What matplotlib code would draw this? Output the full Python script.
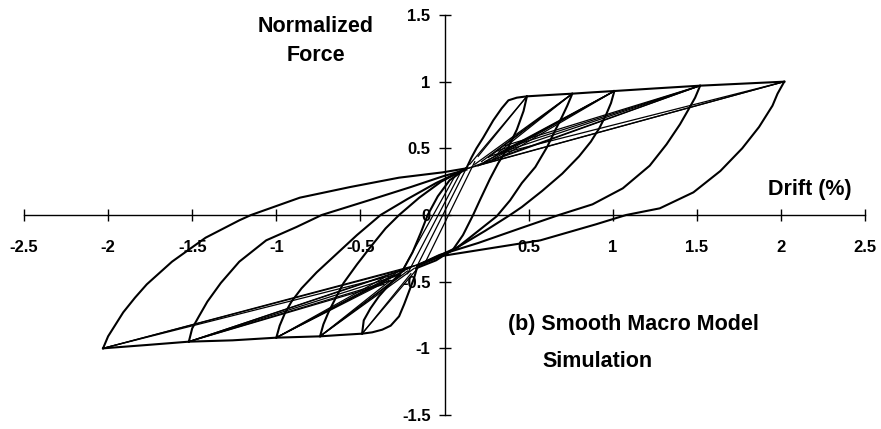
import matplotlib
matplotlib.use('Agg')
import matplotlib.pyplot as plt

# peaks of each drift amplitude (drift %, normalized force)
peak_x_pos = [0.49, 0.76, 1.01, 1.52, 2.02]
peak_f_pos = [0.89, 0.91, 0.93, 0.97, 1.00]
peak_x_neg = [-0.49, -0.74, -1.00, -1.52, -2.03]
peak_f_neg = [-0.89, -0.91, -0.92, -0.95, -1.00]

# unloading from the positive peaks down to the negative pinch
down_x = [
    [0.49, 0.47, 0.43, 0.38, 0.32, 0.27, 0.21, 0.17, 0.11, 0.05, -0.05, -0.17],
    [0.76, 0.73, 0.70, 0.66, 0.61, 0.54, 0.46, 0.39, 0.31, 0.19, 0.07, -0.04, -0.16],
    [1.01, 0.99, 0.96, 0.92, 0.87, 0.80, 0.70, 0.58, 0.46, 0.39, 0.24, 0.08, -0.04, -0.16],
    [1.52, 1.49, 1.45, 1.40, 1.32, 1.22, 1.06, 0.88, 0.68, 0.45, 0.20, -0.03, -0.15],
    [2.02, 1.98, 1.95, 1.87, 1.77, 1.64, 1.48, 1.28, 1.08, 0.90, 0.57, 0.17, -0.03, -0.15],
]
down_f = [
    [0.89, 0.78, 0.64, 0.51, 0.39, 0.27, 0.11, 0.00, -0.15, -0.26, -0.34, -0.40],
    [0.91, 0.82, 0.74, 0.64, 0.51, 0.36, 0.24, 0.11, -0.01, -0.13, -0.25, -0.32, -0.38],
    [0.93, 0.84, 0.75, 0.65, 0.55, 0.44, 0.31, 0.18, 0.06, 0.00, -0.12, -0.24, -0.31, -0.38],
    [0.97, 0.88, 0.79, 0.68, 0.53, 0.37, 0.20, 0.08, 0.00, -0.10, -0.21, -0.30, -0.37],
    [1.00, 0.91, 0.82, 0.66, 0.50, 0.33, 0.17, 0.05, 0.00, -0.07, -0.19, -0.27, -0.31, -0.37],
]

# unloading from the negative peaks up to the positive pinch
up_x = [
    [-0.49, -0.48, -0.44, -0.39, -0.32, -0.25, -0.19, -0.14, -0.10, -0.04, 0.03, 0.13],
    [-0.74, -0.72, -0.69, -0.65, -0.60, -0.52, -0.44, -0.35, -0.27, -0.15, -0.02, 0.13],
    [-1.00, -0.98, -0.95, -0.91, -0.85, -0.76, -0.64, -0.52, -0.38, -0.22, -0.05, 0.05, 0.13],
    [-1.52, -1.50, -1.46, -1.41, -1.33, -1.22, -1.06, -0.88, -0.73, -0.45, -0.20, -0.01, 0.13],
    [-2.03, -2.00, -1.96, -1.91, -1.84, -1.77, -1.62, -1.42, -1.22, -1.15, -0.86, -0.56, -0.27, -0.01, 0.13],
]
up_f = [
    [-0.89, -0.79, -0.70, -0.61, -0.51, -0.42, -0.28, -0.13, 0.00, 0.14, 0.26, 0.35],
    [-0.91, -0.82, -0.73, -0.63, -0.51, -0.37, -0.24, -0.10, 0.00, 0.13, 0.25, 0.35],
    [-0.92, -0.83, -0.74, -0.65, -0.55, -0.43, -0.29, -0.15, 0.00, 0.12, 0.24, 0.30, 0.35],
    [-0.95, -0.85, -0.76, -0.65, -0.51, -0.35, -0.19, -0.09, 0.00, 0.11, 0.21, 0.29, 0.34],
    [-1.00, -0.91, -0.83, -0.73, -0.62, -0.52, -0.35, -0.17, -0.04, 0.00, 0.13, 0.21, 0.28, 0.32, 0.35],
]

# first loading (backbone) from the pinch to the growing peaks
env_pos_x = [0.13, 0.16, 0.19, 0.23, 0.29, 0.34, 0.38, 0.43, 0.49, 0.62, 0.76, 0.88, 1.01, 1.26, 1.52, 1.77, 2.02]
env_pos_f = [0.35, 0.43, 0.50, 0.58, 0.71, 0.80, 0.86, 0.88, 0.89, 0.90, 0.91, 0.92, 0.93, 0.95, 0.97, 0.985, 1.00]
env_neg_x = [-0.16, -0.18, -0.21, -0.24, -0.27, -0.32, -0.37, -0.43, -0.49, -0.62, -0.74, -0.87, -1.00, -1.26, -1.52, -1.77, -2.03]
env_neg_f = [-0.38, -0.47, -0.57, -0.67, -0.76, -0.83, -0.86, -0.88, -0.89, -0.90, -0.91, -0.915, -0.92, -0.94, -0.95, -0.975, -1.00]

# reloading of the repeated cycles: start point and target peak index
fan_pos_x = [0.15, 0.20, 0.18, 0.22, 0.26, 0.32, 0.20, 0.24, 0.29, 0.33, 0.36,
             0.14, 0.20, 0.27, 0.31, 0.36, 0.14, 0.22, 0.30]
fan_pos_f = [0.38, 0.44, 0.38, 0.40, 0.43, 0.47, 0.37, 0.40, 0.42, 0.47, 0.45,
             0.35, 0.37, 0.44, 0.48, 0.52, 0.35, 0.38, 0.45]
fan_pos_to = [0, 0, 1, 1, 1, 1, 2, 2, 2, 2, 2, 3, 3, 3, 3, 3, 4, 4, 4]
fan_neg_x = [-0.16, -0.20, -0.18, -0.22, -0.26, -0.32, -0.20, -0.24, -0.29, -0.33, -0.36,
             -0.15, -0.21, -0.27, -0.31, -0.36, -0.15, -0.22, -0.30]
fan_neg_f = [-0.40, -0.44, -0.40, -0.42, -0.45, -0.49, -0.39, -0.42, -0.44, -0.49, -0.47,
             -0.37, -0.40, -0.45, -0.49, -0.52, -0.37, -0.40, -0.45]
fan_neg_to = [0, 0, 1, 1, 1, 1, 2, 2, 2, 2, 2, 3, 3, 3, 3, 3, 4, 4, 4]

# steep links between the two pinch points
link_x0 = [-0.17, -0.22, -0.12, -0.27]
link_f0 = [-0.40, -0.44, -0.37, -0.46]
link_x1 = [0.13, 0.10, 0.18, 0.07]
link_f1 = [0.35, 0.33, 0.40, 0.31]

xticks = [-2.5, -2, -1.5, -1, -0.5, 0, 0.5, 1, 1.5, 2, 2.5]
xtick_labels = ['-2.5', '-2', '-1.5', '-1', '-0.5', '', '0.5', '1', '1.5', '2', '2.5']
yticks = [-1.5, -1, -0.5, 0, 0.5, 1, 1.5]
ytick_labels = ['-1.5', '-1', '-0.5', '0', '0.5', '1', '1.5']

plt.rcParams['font.family'] = ['Liberation Sans', 'DejaVu Sans']

fig = plt.figure(figsize=(8.81, 4.29), dpi=100)
ax = fig.add_axes([24 / 881, 1 - 415 / 429, 841 / 881, 400 / 429])

lw_main = 1.5
lw_fan = 0.9

for xs, fs in zip(down_x, down_f):
    ax.plot(xs, fs, color='black', lw=lw_main)
for xs, fs in zip(up_x, up_f):
    ax.plot(xs, fs, color='black', lw=lw_main)

ax.plot(env_pos_x, env_pos_f, color='black', lw=lw_main)
ax.plot(env_neg_x, env_neg_f, color='black', lw=lw_main)

for x0, f0, k in zip(fan_pos_x, fan_pos_f, fan_pos_to):
    ax.plot([x0, peak_x_pos[k]], [f0, peak_f_pos[k]], color='black', lw=lw_fan)
for x0, f0, k in zip(fan_neg_x, fan_neg_f, fan_neg_to):
    ax.plot([x0, peak_x_neg[k]], [f0, peak_f_neg[k]], color='black', lw=lw_fan)

for x0, f0, x1, f1 in zip(link_x0, link_f0, link_x1, link_f1):
    ax.plot([x0, x1], [f0, f1], color='black', lw=lw_fan)

ax.set_xlim(-2.5, 2.5)
ax.set_ylim(-1.5, 1.5)

ax.spines['left'].set_position(('data', 0))
ax.spines['bottom'].set_position(('data', 0))
ax.spines['top'].set_visible(False)
ax.spines['right'].set_visible(False)
ax.spines['left'].set_linewidth(1.0)
ax.spines['bottom'].set_linewidth(1.0)

ax.set_xticks(xticks)
ax.set_xticklabels(xtick_labels, fontsize=12, fontweight='bold')
ax.set_yticks(yticks)
ax.set_yticklabels(ytick_labels, fontsize=12, fontweight='bold')
ax.tick_params(axis='x', direction='inout', length=8, width=1.0, pad=14)
ax.tick_params(axis='y', direction='inout', length=8, width=1.0, pad=6)
ax.patch.set_visible(False)

fig.text(316 / 881, 1 - 16 / 429, 'Normalized\nForce', ha='center', va='top',
         fontsize=15.5, fontweight='bold', linespacing=1.5)
fig.text(810 / 881, 1 - 189 / 429, 'Drift (%)', ha='center', va='center',
         fontsize=15.5, fontweight='bold')
fig.text(508 / 881, 1 - 330 / 429, '(b) Smooth Macro Model', ha='left', va='baseline',
         fontsize=15.5, fontweight='bold')
fig.text(542 / 881, 1 - 367 / 429, 'Simulation', ha='left', va='baseline',
         fontsize=15.5, fontweight='bold')

fig.savefig('out.png', dpi=100)
